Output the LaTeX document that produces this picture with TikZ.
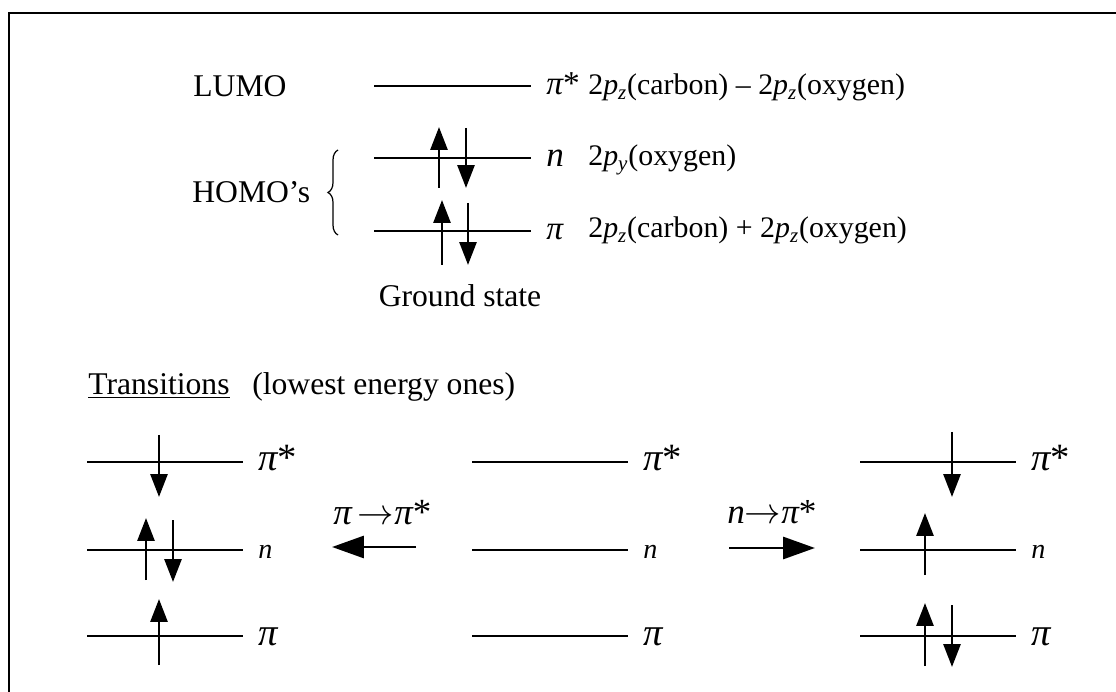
\documentclass[tikz,border=0pt]{standalone}
\usepackage{fontspec}
\setmainfont{Liberation Serif}
\usetikzlibrary{arrows.meta,decorations.pathreplacing}
\tikzset{
  orbit/.style={line width=1.7pt},
  spin/.style={line width=1.6pt,-{Triangle[length=0.46cm,width=0.34cm]}},
  jump/.style={line width=1.7pt,-{Triangle[length=0.64cm,width=0.44cm]}},
  txt/.style={anchor=base west,inner sep=0pt},
  desc/.style={txt,font=\fontsize{17}{20}\selectfont},
}
\newcommand{\ip}{{\itshape π}}
\newcommand{\pz}{2\textit{p}\textsubscript{\textit{z}}}
\begin{document}
\begin{tikzpicture}[x=0.02cm,y=-0.02cm,font=\fontsize{18}{21.6}\selectfont]
  \path[use as bounding box] (0,0) rectangle (1116,692);
  \draw[line width=1.7pt] (9,700) -- (9,13) -- (1125,13);

  % ground state
  \node[txt] (lumo) at (193,97) {LUMO};
  \node[txt] (homo) at (192,203) {HOMO's};
  \draw[line width=0.7pt,decorate,decoration={brace,amplitude=0.2cm}] (338,235) -- (338,150);
  \foreach \n/\y/\t in {gs/86/{\fontsize{19}{22}\selectfont\ip*},gn/158/{\fontsize{20}{24}\selectfont\itshape n},gp/231/{\fontsize{19}{22}\selectfont\ip}}{
    \coordinate (\n-w) at (374,\y);
    \coordinate (\n-e) at (531,\y);
    \draw[orbit] (\n-w) -- (\n-e);
    \node[txt] (\n-t) at (546,\y+9) {\t};
  }
  \node[desc] (ds) at (588,95) {\pz(carbon) -- \pz(oxygen)};
  \node[desc] (dn) at (588,166) {2\textit{p}\textsubscript{\textit{y}}(oxygen)};
  \node[desc] (dp) at (588,238) {\pz(carbon) + \pz(oxygen)};
  \node[anchor=base,inner sep=0pt] (gstate) at (460,307) {Ground state};

  % transitions
  \node[txt] (trans) at (88,395) {\underline{Transitions}};
  \node[txt] (lowest) at (252,395) {(lowest energy ones)};
  \foreach \c/\x in {a/87,b/472,c/860}{
    \foreach \n/\y/\t in {s/462/{\fontsize{22}{26}\selectfont\ip*},n/550/{\fontsize{16}{19}\selectfont\itshape n},p/636/{\fontsize{22}{26}\selectfont\ip}}{
      \coordinate (\c\n-w) at (\x,\y);
      \coordinate (\c\n-e) at (\x+156,\y);
      \draw[orbit] (\c\n-w) -- (\c\n-e);
      \node[txt] (\c\n-t) at (\x+171,\y+9) {\t};
    }
  }
  \node[txt,font=\fontsize{21}{24}\selectfont] (pplab) at (333,524) {\ip\,$\rightarrow$\ip*};
  \node[txt,font=\fontsize{20}{24}\selectfont] (nplab) at (727,523) {\textit{n}$\rightarrow$\ip*};
  \coordinate (pp-s) at (416,547);
  \coordinate (pp-e) at (332,547);
  \coordinate (np-s) at (729,548);
  \coordinate (np-e) at (815,548);
  \draw[jump] (pp-s) -- (pp-e);
  \draw[jump] (np-s) -- (np-e);

  % electrons
  \foreach \x/\a/\b in {439/188/127,466/128/188,442/265/200,468/203/265,
                        159/435/497,146/580/518,173/520/582,159/665/599,
                        952/432/497,925/575/513,925/666/603,952/605/667}{
    \draw[spin] (\x,\a) -- (\x,\b);
  }
\end{tikzpicture}
\end{document}
